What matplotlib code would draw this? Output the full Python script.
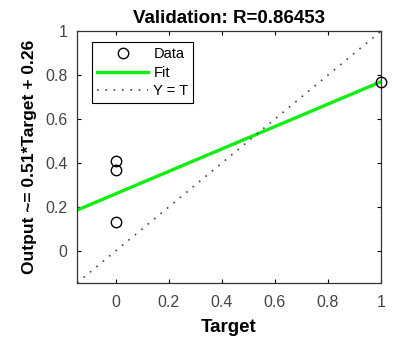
import matplotlib
matplotlib.use("Agg")
import matplotlib.pyplot as plt
import numpy as np

plt.rcParams['font.family'] = ['Liberation Sans', 'DejaVu Sans']

target = [0, 0, 0, 1]
output = [0.41, 0.37, 0.13, 0.77]
fit_slope = 0.51
fit_intercept = 0.26
r_value = "0.86453"
lims = [-0.145, 1.0]
xticks = [0, 0.2, 0.4, 0.6, 0.8, 1]
xtick_labels = ["0", "0.2", "0.4", "0.6", "0.8", "1"]
yticks = [0, 0.2, 0.4, 0.6, 0.8, 1]
ytick_labels = ["0", "0.2", "0.4", "0.6", "0.8", "1"]

fig = plt.figure(figsize=(4.08, 3.38), dpi=100)
ax = fig.add_axes([0.189, 0.163, 0.745, 0.745])

xs = np.array(lims)
ax.plot(target, output, 'o', mfc='none', mec='black', ms=7.5, mew=1.0, label='Data',
        zorder=3, clip_on=False)
ax.plot(xs, fit_slope * xs + fit_intercept, color='#11ee11', lw=2.4, label='Fit')
ax.plot(xs, xs, linestyle=(0, (1, 4)), color='#444444', lw=1.2, label='Y = T')

ax.set_xlim(lims)
ax.set_ylim(lims)
ax.set_xticks(xticks)
ax.set_xticklabels(xtick_labels)
ax.set_yticks(yticks)
ax.set_yticklabels(ytick_labels)
ax.tick_params(direction='in', top=True, right=True, labelsize=11.5, labelcolor='#444444',
               length=3, color='black')
ax.tick_params(axis='x', pad=9)
ax.tick_params(axis='y', pad=7)
for s in ax.spines.values():
    s.set_color('#333333')
    s.set_linewidth(0.9)

ax.set_title(f"Validation: R={r_value}", fontsize=13.5, fontweight='bold', pad=6)
ax.set_xlabel("Target", fontsize=13.5, fontweight='bold', labelpad=6)
ax.set_ylabel("Output ~= 0.51*Target + 0.26", fontsize=12.5, fontweight='bold', labelpad=6)

leg = ax.legend(loc='upper left', bbox_to_anchor=(0.049, 0.956), fontsize=10.5,
                frameon=True, fancybox=False, edgecolor='black', framealpha=1,
                handlelength=3.5, borderpad=0.35, labelspacing=0.3, handletextpad=0.35,
                borderaxespad=0)
leg.get_frame().set_linewidth(0.8)

fig.savefig("out.png", dpi=100)
